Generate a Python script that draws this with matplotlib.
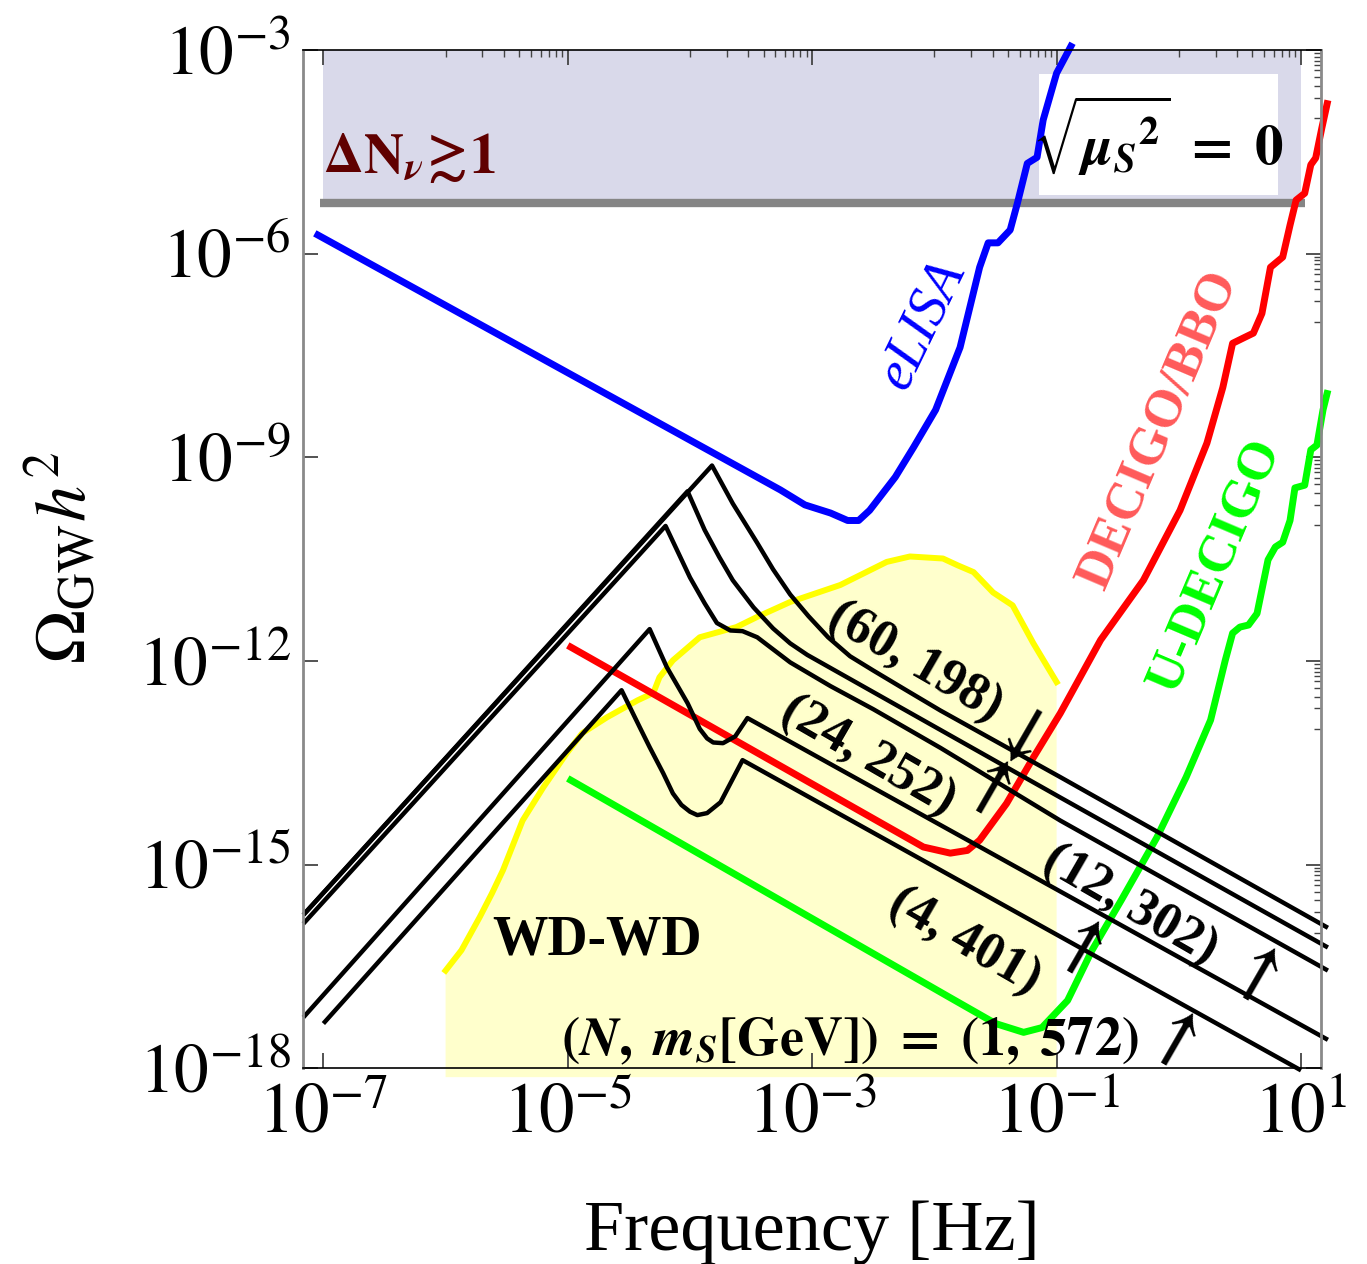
import numpy as np
import matplotlib
matplotlib.use("Agg")
import matplotlib.pyplot as plt
from matplotlib.patches import Rectangle
from matplotlib.ticker import FixedLocator, FixedFormatter, NullFormatter

plt.rcParams['font.family'] = ['Liberation Serif', 'DejaVu Serif']
plt.rcParams['mathtext.fontset'] = 'stix'

# ---------------- data: log10(f/Hz), log10(Omega_GW h^2) ----------------
# detector sensitivity curves
elisa_logf = [-7.07, -3.26, -3.06, -2.85, -2.71, -2.62, -2.53, -2.32, -2.17, -1.99, -1.79,
              -1.63, -1.56, -1.48, -1.38, -1.32, -1.24, -1.16, -1.11, -1.00, -0.87]
elisa_logomega = [-5.70, -9.48, -9.70, -9.82, -9.93, -9.93, -9.78, -9.29, -8.85, -8.30, -7.38,
                  -6.20, -5.84, -5.84, -5.65, -5.25, -4.67, -4.58, -4.03, -3.34, -2.90]

decigo_logf = [-5.00, -2.09, -1.87, -1.73, -1.63, -1.41, -1.19, -0.97, -0.64, -0.29, 0.01, 0.23,
               0.36, 0.44, 0.53, 0.61, 0.68, 0.75, 0.85, 0.91, 0.96, 1.03, 1.08, 1.12, 1.17, 1.22]
decigo_logomega = [-11.77, -14.74, -14.83, -14.79, -14.64, -14.10, -13.42, -12.77, -11.69, -10.81,
                   -9.78, -8.79, -7.97, -7.32, -7.24, -7.17, -6.88, -6.20, -6.05, -5.58, -5.21,
                   -5.11, -4.69, -4.59, -4.15, -3.74]

udecigo_logf = [-5.00, -1.88, -1.50, -1.27, -1.12, -0.91, -0.71, -0.47, -0.18, 0.06, 0.26, 0.38,
                0.44, 0.50, 0.57, 0.64, 0.73, 0.79, 0.85, 0.91, 0.95, 1.03, 1.08, 1.13, 1.18, 1.22]
udecigo_logomega = [-13.73, -16.95, -17.34, -17.47, -17.40, -17.00, -16.26, -15.52, -14.60, -13.71,
                    -12.87, -11.99, -11.59, -11.50, -11.47, -11.30, -10.51, -10.32, -10.25, -9.93,
                    -9.45, -9.41, -8.89, -8.82, -8.30, -8.01]

# white-dwarf binary foreground (upper envelope)
wd_logf = [-6.00, -5.87, -5.72, -5.62, -5.53, -5.37, -5.20, -5.01, -4.88, -4.68, -4.43, -4.30,
           -4.25, -4.14, -3.92, -3.62, -3.45, -3.18, -2.77, -2.39, -2.20, -1.93, -1.81, -1.68,
           -1.52, -1.36, -1.19, -1.00]
wd_logomega = [-16.56, -16.26, -15.77, -15.42, -15.08, -14.35, -13.86, -13.36, -13.06, -12.83,
               -12.58, -12.47, -12.24, -11.99, -11.65, -11.50, -11.35, -11.13, -10.88, -10.54,
               -10.46, -10.49, -10.59, -10.69, -10.99, -11.18, -11.74, -12.31]
wd_floor = -18.13

# Delta N_nu >~ 1 bound
dn_logomega = -5.25
dn_band_logf = [-7.00, 1.00]
dn_line_logf = [-7.03, 1.03]

# GW spectra for (N, m_S [GeV])
spec_60_198_logf = [-7.164, -3.82, -3.65, -3.45, -3.32, -3.18, -3.03, -2.87, -2.69, -2.50,
                    -2.24, -1.95, -0.97, 1.22]
spec_60_198_logomega = [-15.74, -9.12, -9.68, -10.26, -10.65, -11.02, -11.34, -11.65, -11.93,
                        -12.14, -12.42, -12.73, -13.71, -15.93]

spec_24_252_logf = [-7.164, -4.02, -3.88, -3.76, -3.65, -3.48, -3.32, -3.18, -3.04, -0.97, 1.22]
spec_24_252_logomega = [-15.74, -9.50, -10.07, -10.47, -10.81, -11.21, -11.52, -11.74, -11.91,
                        -14.01, -16.22]

spec_12_302_logf = [-7.164, -4.20, -4.00, -3.88, -3.78, -3.67, -3.57, -3.45, -3.18, -2.85, -2.50,
                    -1.95, -0.97, 1.22]
spec_12_302_logomega = [-15.87, -10.01, -10.77, -11.15, -11.44, -11.55, -11.56, -11.65, -12.02,
                        -12.37, -12.71, -13.28, -14.35, -16.56]

spec_4_401_logf = [-7.164, -4.33, -4.19, -4.02, -3.92, -3.86, -3.81, -3.73, -3.63, -3.53, 1.22]
spec_4_401_logomega = [-17.25, -11.53, -12.09, -12.62, -13.00, -13.14, -13.20, -13.21, -13.11,
                       -12.84, -17.58]

spec_1_572_logf = [-7.00, -4.56, -4.41, -4.33, -4.22, -4.14, -4.07, -4.00, -3.94, -3.86, -3.75,
                   -3.57, 1.00]
spec_1_572_logomega = [-17.34, -12.43, -12.98, -13.27, -13.65, -13.95, -14.12, -14.22, -14.27,
                       -14.24, -14.08, -13.46, -18.03]

# axis ticks
xtick_exp = [-7, -5, -3, -1, 1]
ytick_exp = [-18, -15, -12, -9, -6, -3]
xtick_labels = [r"$10^{%d}$" % e for e in xtick_exp]
ytick_labels = [r"$10^{%d}$" % e for e in ytick_exp]


def p(a):
    return 10.0 ** np.asarray(a, dtype=float)


fig = plt.figure(figsize=(13.67, 12.64), dpi=100)
ax = fig.add_axes([0.2219, 0.1548, 0.7445, 0.8056])
ax.set_xscale('log')
ax.set_yscale('log')
ax.set_xlim(10 ** -7.164, 10 ** 1.164)
ax.set_ylim(1e-18, 1e-3)

# excluded region from extra radiation
ax.fill_between(p(dn_band_logf), p([dn_logomega] * 2), 1e-3, color='#D9D9EA', lw=0, zorder=1)
ax.plot(p(dn_line_logf), p([dn_logomega] * 2), color='#858585', lw=6,
        solid_capstyle='butt', zorder=3)

# WD-WD foreground
ax.fill(np.r_[p(wd_logf), p([wd_logf[-1], wd_logf[0]])],
        np.r_[p(wd_logomega), p([wd_floor, wd_floor])],
        color='#FFFFCC', lw=0, zorder=1.5, clip_on=False)
ax.plot(p(wd_logf), p(wd_logomega), color='#FFFF00', lw=4.3, zorder=2,
        solid_joinstyle='round')

# sensitivity curves
for lf, lo, col in [(elisa_logf, elisa_logomega, '#0000FF'),
                    (decigo_logf, decigo_logomega, '#FF0000'),
                    (udecigo_logf, udecigo_logomega, '#00FF00')]:
    ax.plot(p(lf), p(lo), color=col, lw=5, zorder=4, clip_on=False,
            solid_joinstyle='round', solid_capstyle='butt')

# GW spectra
for lf, lo in [(spec_60_198_logf, spec_60_198_logomega),
               (spec_24_252_logf, spec_24_252_logomega),
               (spec_12_302_logf, spec_12_302_logomega),
               (spec_4_401_logf, spec_4_401_logomega),
               (spec_1_572_logf, spec_1_572_logomega)]:
    ax.plot(p(lf), p(lo), color='black', lw=3.2, zorder=5, clip_on=False,
            solid_joinstyle='round', solid_capstyle='butt')

# ticks
ax.xaxis.set_major_locator(FixedLocator(p(xtick_exp)))
ax.xaxis.set_major_formatter(FixedFormatter(xtick_labels))
ax.yaxis.set_major_locator(FixedLocator(p(ytick_exp)))
ax.yaxis.set_major_formatter(FixedFormatter(ytick_labels))
ax.xaxis.set_minor_locator(FixedLocator([j * 10.0 ** (e - 1) for e in xtick_exp[1:] for j in range(1, 10)]))
ax.yaxis.set_minor_locator(FixedLocator([j * 10.0 ** (e - 1) for e in ytick_exp[1:] for j in range(1, 10)]))
ax.xaxis.set_minor_formatter(NullFormatter())
ax.yaxis.set_minor_formatter(NullFormatter())
ax.tick_params(which='major', direction='in', length=11, width=1.3, top=True, right=True,
               color='#444444')
ax.tick_params(axis='x', which='major', pad=10, labelsize=51)
ax.tick_params(axis='y', which='major', pad=9, labelsize=50)
ax.tick_params(which='minor', direction='in', length=5, width=1.0, top=True, right=True,
               bottom=False, left=False, color='#444444')

for side in ('left', 'right'):
    ax.spines[side].set_color('#8A8A8A')
    ax.spines[side].set_linewidth(2)
for side in ('top', 'bottom'):
    ax.spines[side].set_color('black')
    ax.spines[side].set_linewidth(1.2)
for s in ax.spines.values():
    s.set_zorder(6)

# axis labels
fig.text(0.594, 0.011, 'Frequency [Hz]', fontsize=52, ha='center', va='baseline')
fig.text(0.045, 0.559, r"$\Omega_{\rm GW}h^2$", fontsize=52, rotation=90,
         ha='center', va='center')

# annotations
T = ax.transAxes
ax.text(0.0194, 0.879, r"$\mathbf{\Delta N}_{\mathbfit{\nu}}\!\mathbf{\gtrsim}\!\mathbf{1}$",
        transform=T, fontsize=40, color='#600000', ha='left', va='baseline', zorder=7)

ax.add_patch(Rectangle((0.723, 0.858), 0.235, 0.118, transform=T, facecolor='white',
                       edgecolor='none', zorder=3.5))
ax.text(0.840, 0.915, r"$\sqrt{\mathbfit{\mu}_{\mathbfit{S}}{}^{\mathbf{2}}}\ \mathbf{=\ 0}$",
        transform=T, fontsize=41, ha='center', va='center', zorder=7)

ax.text(0.608, 0.730, 'eLISA', transform=T, fontsize=40, color='#0000FF', style='italic',
        rotation=64, ha='center', va='center', zorder=7)
ax.text(0.840, 0.627, 'DECIGO/BBO', transform=T, fontsize=38, color='#FF5A5A',
        fontweight='bold', rotation=67, ha='center', va='center', zorder=7)
ax.text(0.896, 0.494, 'U-DECIGO', transform=T, fontsize=38, color='#00FF00',
        fontweight='bold', rotation=67, ha='center', va='center', zorder=7)
ax.text(0.1856, 0.1113, 'WD-WD', transform=T, fontsize=40, fontweight='bold',
        ha='left', va='baseline', zorder=7)

for txt, x, y in [('(60, 198)', 0.601, 0.399), ('(24, 252)', 0.555, 0.306),
                  ('(12, 302)', 0.812, 0.160), ('(4, 401)', 0.650, 0.124)]:
    ax.text(x, y, txt, transform=T, fontsize=38, fontweight='bold', rotation=-30,
            rotation_mode='anchor', ha='center', va='center', zorder=7)

for sym, x, y in [(r"$\mathbf{\downarrow}$", 0.702, 0.330), (r"$\mathbf{\uparrow}$", 0.670, 0.280),
                  (r"$\mathbf{\uparrow}$", 0.932, 0.0966), (r"$\mathbf{\uparrow}$", 0.760, 0.123),
                  (r"$\mathbf{\uparrow}$", 0.852, 0.0327)]:
    ax.text(x, y, sym, transform=T, fontsize=50, rotation=-30, rotation_mode='anchor',
            ha='center', va='center', zorder=7)

ax.text(0.537, 0.013,
        r"$\mathbf{(}\mathbfit{N}\mathbf{,\ }\mathbfit{m}_{\mathbfit{S}}\mathbf{[GeV])\ =\ (1,\ 572)}$",
        transform=T, fontsize=39, ha='center', va='baseline', zorder=7)

fig.savefig('out.png', dpi=100)
